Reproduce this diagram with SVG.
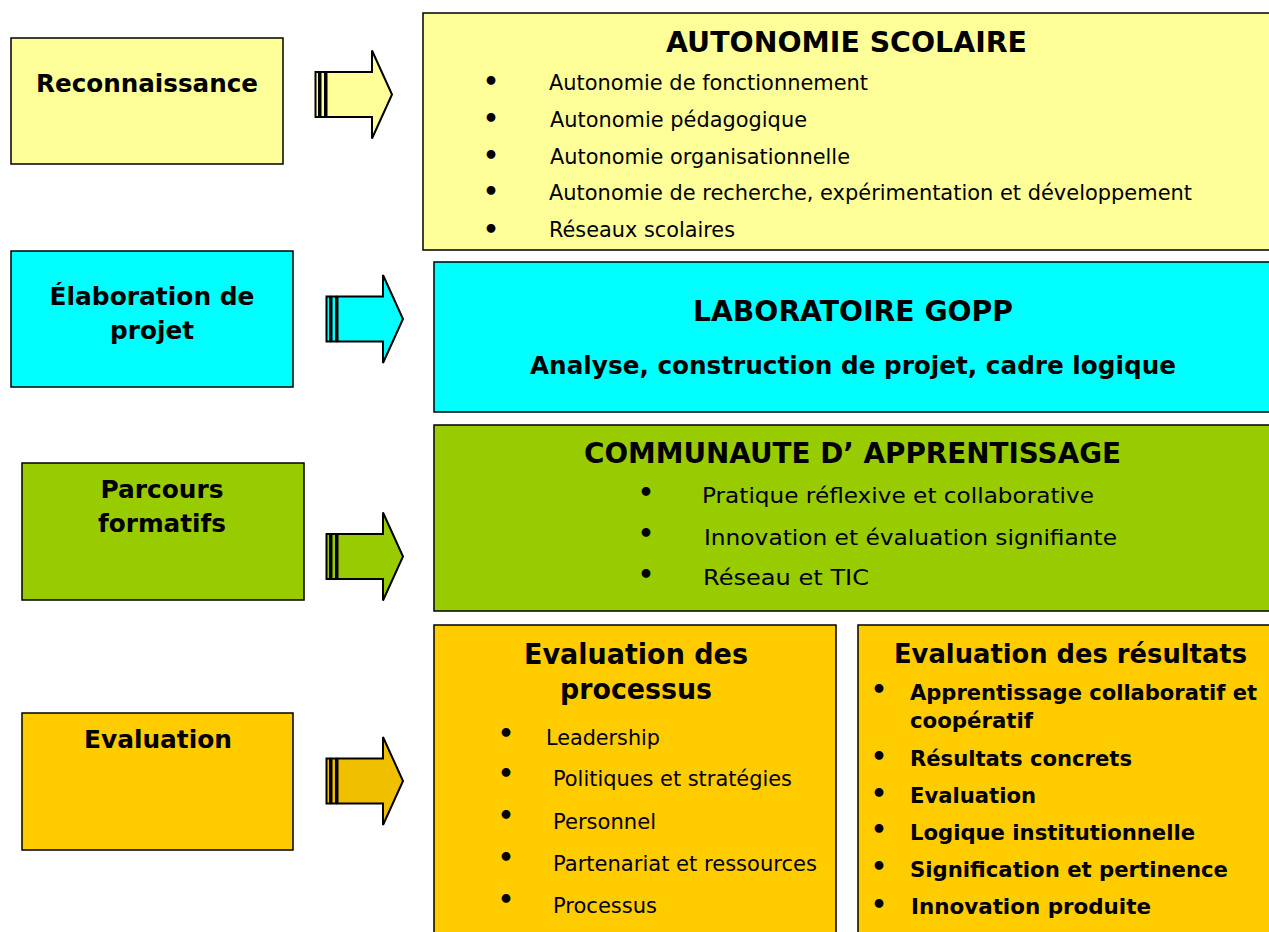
<svg xmlns="http://www.w3.org/2000/svg" width="1269" height="932" viewBox="0 0 1269 932">
<style>
.box{stroke:#000;stroke-width:1.5}
.y{fill:#FFFF99}.c{fill:#00FFFF}.g{fill:#99CC00}.o{fill:#FFCC00}
text{font-family:"DejaVu Sans","Liberation Sans",sans-serif;fill:#000}
.lbl{font-size:24px;font-weight:bold;text-anchor:middle}
.h{font-size:28px;font-weight:bold}
.it{font-size:21px}
.bi{font-size:21px;font-weight:bold}
.bul{font-size:25px;font-weight:bold}
.arr{stroke:#000;stroke-width:2;stroke-linejoin:miter}
</style>
<defs>
<g id="arrow">
<rect x="0.5" y="-22.5" width="3.5" height="45"/>
<rect x="5.5" y="-22.5" width="4.5" height="45"/>
<path d="M11.5,-22.5 H57 V-44 L77,0 L57,44 V22.5 H11.5 Z"/>
</g>
</defs>
<rect width="1269" height="932" fill="#fff"/>

<g id="connectors">
<use href="#arrow" class="arr" fill="#FFFF99" transform="translate(315,94.5)"/>
<use href="#arrow" class="arr" fill="#00FFFF" transform="translate(326,319)"/>
<use href="#arrow" class="arr" fill="#99CC00" transform="translate(326,556.5)"/>
<use href="#arrow" class="arr" fill="#F0C000" transform="translate(326,781)"/>
</g>

<g id="reconnaissance">
<rect class="box y" x="11" y="38" width="272" height="126"/>
<text class="lbl" x="147" y="92" textLength="222" lengthAdjust="spacingAndGlyphs">Reconnaissance</text>
</g>
<g id="elaboration">
<rect class="box c" x="11" y="251" width="282" height="136"/>
<text class="lbl" x="152" y="305" textLength="205" lengthAdjust="spacingAndGlyphs">Élaboration de</text>
<text class="lbl" x="152" y="339" textLength="84" lengthAdjust="spacingAndGlyphs">projet</text>
</g>
<g id="parcours">
<rect class="box g" x="22" y="463" width="282" height="137"/>
<text class="lbl" x="162" y="498" textLength="123" lengthAdjust="spacingAndGlyphs">Parcours</text>
<text class="lbl" x="162" y="532" textLength="128" lengthAdjust="spacingAndGlyphs">formatifs</text>
</g>
<g id="evaluation">
<rect class="box o" x="22" y="713" width="271" height="137"/>
<text class="lbl" x="158" y="748" textLength="148" lengthAdjust="spacingAndGlyphs">Evaluation</text>
</g>

<g id="autonomie">
<rect class="box y" x="423" y="13" width="850" height="237"/>
<text class="h" x="666" y="52" textLength="361" lengthAdjust="spacingAndGlyphs">AUTONOMIE SCOLAIRE</text>
<text class="bul" x="483" y="90">•</text>
<text class="it" x="549" y="90" textLength="319" lengthAdjust="spacingAndGlyphs">Autonomie de fonctionnement</text>
<text class="bul" x="483" y="127">•</text>
<text class="it" x="550" y="127" textLength="257" lengthAdjust="spacingAndGlyphs">Autonomie pédagogique</text>
<text class="bul" x="483" y="164">•</text>
<text class="it" x="550" y="164" textLength="300" lengthAdjust="spacingAndGlyphs">Autonomie organisationnelle</text>
<text class="bul" x="483" y="200">•</text>
<text class="it" x="549" y="200" textLength="643" lengthAdjust="spacingAndGlyphs">Autonomie de recherche, expérimentation et développement</text>
<text class="bul" x="483" y="238">•</text>
<text class="it" x="549" y="237" textLength="186" lengthAdjust="spacingAndGlyphs">Réseaux scolaires</text>
</g>

<g id="laboratoire">
<rect class="box c" x="434" y="262" width="839" height="150"/>
<text class="h" x="693" y="321" textLength="320" lengthAdjust="spacingAndGlyphs">LABORATOIRE GOPP</text>
<text class="bi" x="530" y="374" textLength="646" lengthAdjust="spacingAndGlyphs" style="font-size:24px">Analyse, construction de projet, cadre logique</text>
</g>

<g id="communaute">
<rect class="box g" x="434" y="425" width="839" height="186"/>
<text class="h" x="584" y="463" textLength="537" lengthAdjust="spacingAndGlyphs">COMMUNAUTE D’ APPRENTISSAGE</text>
<text class="bul" x="638" y="501">•</text>
<text class="it" x="702" y="503" textLength="392" lengthAdjust="spacingAndGlyphs">Pratique réflexive et collaborative</text>
<text class="bul" x="638" y="542">•</text>
<text class="it" x="704" y="545" textLength="413" lengthAdjust="spacingAndGlyphs">Innovation et évaluation signifiante</text>
<text class="bul" x="638" y="583">•</text>
<text class="it" x="703" y="585" textLength="166" lengthAdjust="spacingAndGlyphs">Réseau et TIC</text>
</g>

<g id="eval-processus">
<rect class="box o" x="434" y="625" width="402" height="320"/>
<text class="h" x="524" y="664" textLength="224" lengthAdjust="spacingAndGlyphs">Evaluation des</text>
<text class="h" x="560" y="699" textLength="152" lengthAdjust="spacingAndGlyphs">processus</text>
<text class="bul" x="498" y="742">•</text>
<text class="it" x="546" y="745" textLength="114" lengthAdjust="spacingAndGlyphs">Leadership</text>
<text class="bul" x="498" y="782">•</text>
<text class="it" x="553" y="786" textLength="239" lengthAdjust="spacingAndGlyphs">Politiques et stratégies</text>
<text class="bul" x="498" y="824">•</text>
<text class="it" x="553" y="829" textLength="103" lengthAdjust="spacingAndGlyphs">Personnel</text>
<text class="bul" x="498" y="866">•</text>
<text class="it" x="553" y="871" textLength="264" lengthAdjust="spacingAndGlyphs">Partenariat et ressources</text>
<text class="bul" x="498" y="908">•</text>
<text class="it" x="553" y="913" textLength="104" lengthAdjust="spacingAndGlyphs">Processus</text>
</g>

<g id="eval-resultats">
<rect class="box o" x="858" y="625" width="415" height="320"/>
<text class="h" x="894" y="663" style="font-size:26px" textLength="353" lengthAdjust="spacingAndGlyphs">Evaluation des résultats</text>
<text class="bul" x="871" y="698">•</text>
<text class="bi" x="910" y="700" textLength="347" lengthAdjust="spacingAndGlyphs">Apprentissage collaboratif et</text>
<text class="bi" x="910" y="728" textLength="123" lengthAdjust="spacingAndGlyphs">coopératif</text>
<text class="bul" x="871" y="765">•</text>
<text class="bi" x="910" y="766" textLength="222" lengthAdjust="spacingAndGlyphs">Résultats concrets</text>
<text class="bul" x="871" y="802">•</text>
<text class="bi" x="910" y="803" textLength="126" lengthAdjust="spacingAndGlyphs">Evaluation</text>
<text class="bul" x="871" y="838">•</text>
<text class="bi" x="910" y="840" textLength="285" lengthAdjust="spacingAndGlyphs">Logique institutionnelle</text>
<text class="bul" x="871" y="875">•</text>
<text class="bi" x="910" y="877" textLength="318" lengthAdjust="spacingAndGlyphs">Signification et pertinence</text>
<text class="bul" x="871" y="913">•</text>
<text class="bi" x="911" y="914" textLength="240" lengthAdjust="spacingAndGlyphs">Innovation produite</text>
</g>
</svg>
